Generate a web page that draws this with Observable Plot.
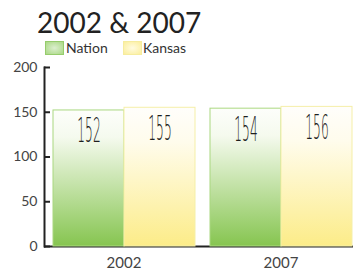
<!DOCTYPE html>
<html><head><meta charset="utf-8">
<script src="https://cdn.jsdelivr.net/npm/d3@7"></script>
<script src="https://cdn.jsdelivr.net/npm/@observablehq/plot@0.6"></script>
<style>
body{margin:0;background:#fff;}
#wrap{position:relative;width:362px;height:271px;overflow:hidden;font-family:Lato,sans-serif;}
#title{position:absolute;left:37px;top:8px;font-family:Lato,sans-serif;font-size:28px;line-height:28px;color:#222;white-space:nowrap;}
.sw{position:absolute;top:41px;width:19px;height:14px;box-sizing:border-box;}
.lt{position:absolute;top:39px;font-family:Lato,sans-serif;font-size:14px;line-height:18px;color:#333;white-space:nowrap;}
#chart{position:absolute;left:0;top:60px;}
</style></head>
<body><div id="wrap">
<div id="title">2002 &amp; 2007</div>
<div class="sw" style="left:45px;background:radial-gradient(ellipse at center,#dcefcf 0%,#a9d884 100%);border:1px solid #96cc6c;"></div>
<div class="lt" style="left:66px;">Nation</div>
<div class="sw" style="left:123px;background:radial-gradient(ellipse at center,#fffbe0 0%,#fbee9c 100%);border:1px solid #f6ec9e;"></div>
<div class="lt" style="left:143px;">Kansas</div>
<div id="chart"></div>
</div>
<script>
const years = ["2002", "2007"];
const seriesNames = ["Nation", "Kansas"];
const nationValues = [152, 154];
const kansasValues = [155, 156];
const yTicks = [0, 50, 100, 150, 200];

const rows = years.flatMap((year, i) => [
  {year, series: seriesNames[0], value: nationValues[i]},
  {year, series: seriesNames[1], value: kansasValues[i]}
]);

const chart = Plot.plot({
  width: 362,
  height: 211,
  marginTop: 7,
  marginBottom: 25,
  marginLeft: 52,
  marginRight: 10,
  style: {fontFamily: "Lato, sans-serif", background: "transparent", overflow: "visible"},
  fx: {domain: years, paddingInner: 0.09, paddingOuter: 0, label: null, axis: null},
  x: {domain: seriesNames, padding: 0, axis: null},
  y: {domain: [0, 200], axis: null},
  marks: [
    Plot.ruleY([0], {fx: [years[0]], insetLeft: -8, insetRight: -7, stroke: "#222", strokeWidth: 2}),
    Plot.ruleY([0], {fx: [years[1]], insetLeft: -7, insetRight: -1, stroke: "#222", strokeWidth: 2}),
    Plot.barY(rows.filter(d => d.series === "Nation"), {fx: "year", x: "series", y: "value", fill: "url(#gradNation)", stroke: "#aad880", strokeWidth: 1}),
    Plot.barY(rows.filter(d => d.series === "Kansas"), {fx: "year", x: "series", y: "value", fill: "url(#gradKansas)", stroke: "#f5efa8", strokeWidth: 1}),
    Plot.text(rows, {fx: "year", x: "series", y: "value", text: d => String(d.value), dy: 21, fill: "#1e1e1e", fontSize: 34, fontFamily: "DejaVu Sans", fontWeight: 200}),
    Plot.frame({anchor: "left", facetAnchor: "left", dx: -8, stroke: "#222", strokeWidth: 2}),
    Plot.axisY({ticks: yTicks, tickSize: 6, tickPadding: 7, dx: -2, strokeWidth: 2, stroke: "#222", fill: "#444", fontSize: 14, fontFamily: "'Liberation Sans Narrow', Lato, sans-serif", facetAnchor: "left", label: null}),
    Plot.axisFx({anchor: "bottom", tickSize: 0, tickPadding: 11, fontSize: 15, fill: "#444", label: null})
  ]
});

const svg = d3.select(chart);
const defs = svg.insert("defs", ":first-child");
const gN = defs.append("linearGradient").attr("id", "gradNation").attr("x1", 0).attr("y1", 0).attr("x2", 0).attr("y2", 1);
gN.append("stop").attr("offset", "0%").attr("stop-color", "#fdfefb");
gN.append("stop").attr("offset", "20%").attr("stop-color", "#f5faee");
gN.append("stop").attr("offset", "100%").attr("stop-color", "#86c550");
const gK = defs.append("linearGradient").attr("id", "gradKansas").attr("x1", 0).attr("y1", 0).attr("x2", 0).attr("y2", 1);
gK.append("stop").attr("offset", "0%").attr("stop-color", "#fffefb");
gK.append("stop").attr("offset", "25%").attr("stop-color", "#fffcec");
gK.append("stop").attr("offset", "100%").attr("stop-color", "#fcec88");

svg.selectAll('g[aria-label="text"] text').each(function() {
  const t = this.getAttribute("transform");
  if (t) this.setAttribute("transform", t + " scale(0.36,1)");
});

document.getElementById("chart").appendChild(chart);
</script>
</body></html>
